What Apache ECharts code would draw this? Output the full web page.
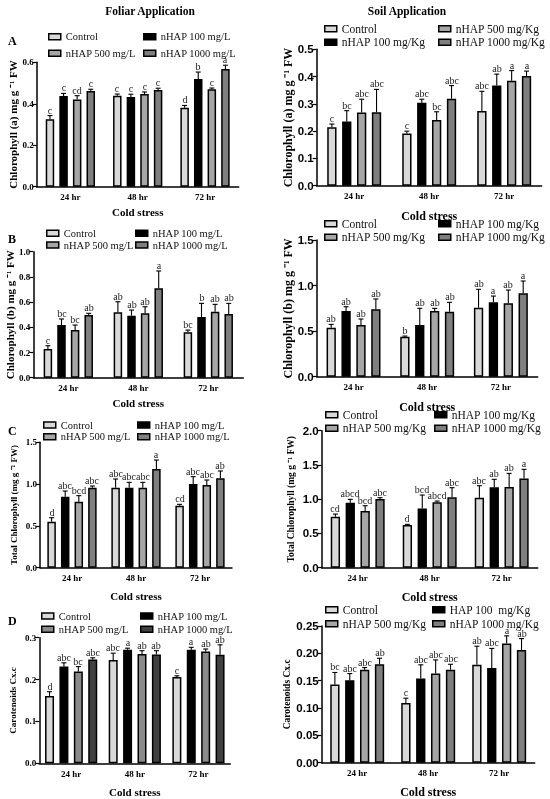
<!DOCTYPE html>
<html>
<head>
<meta charset="utf-8">
<script src="https://cdn.jsdelivr.net/npm/echarts@6/dist/echarts.min.js"></script>
<style>
  html, body { margin: 0; padding: 0; background: #fff; }
  #chart { width: 550px; height: 799px; }
  #chart svg { will-change: transform; }
</style>
</head>
<body>
<div id="chart"></div>
<script>
// categories and legend names
const groups = ['24 hr', '48 hr', '72 hr']
const foliarNames = ['Control', 'nHAP 100 mg/L', 'nHAP 500 mg/L', 'nHAP 1000 mg/L']
const soilNames = ['Control', 'nHAP 100 mg/Kg', 'nHAP 500 mg/Kg', 'nHAP 1000 mg/Kg']
const soilNamesD = ['Control', 'HAP 100  mg/Kg', 'nHAP 500 mg/Kg', 'nHAP 1000 mg/Kg']

// rows = Control, 100, 500, 1000 ; columns = 24 hr, 48 hr, 72 hr
// A - chlorophyll a
const chlAFoliar = [[0.325, 0.439, 0.381], [0.437, 0.433, 0.520], [0.421, 0.447, 0.470], [0.462, 0.466, 0.568]]
const chlAFoliarErr = [[0.018, 0.008, 0.011], [0.013, 0.013, 0.033], [0.018, 0.010, 0.006], [0.008, 0.009, 0.018]]
const chlAFoliarSig = [['c', 'c', 'd'], ['c', 'c', 'b'], ['cd', 'c', 'c'], ['c', 'c', 'a']]
const chlASoil = [[0.214, 0.191, 0.274], [0.235, 0.304, 0.367], [0.268, 0.241, 0.385], [0.269, 0.319, 0.402]]
const chlASoilErr = [[0.012, 0.009, 0.072], [0.040, 0.013, 0.042], [0.049, 0.030, 0.037], [0.084, 0.048, 0.018]]
const chlASoilSig = [['c', 'c', 'abc'], ['bc', 'abc', 'ab'], ['abc', 'bc', 'a'], ['abc', 'abc', 'a']]

// B - chlorophyll b
const chlBFoliar = [[0.228, 0.519, 0.360], [0.418, 0.492, 0.481], [0.378, 0.511, 0.524], [0.497, 0.709, 0.505]]
const chlBFoliarErr = [[0.026, 0.084, 0.018], [0.048, 0.045, 0.109], [0.040, 0.052, 0.058], [0.014, 0.138, 0.085]]
const chlBFoliarSig = [['c', 'ab', 'bc'], ['bc', 'ab', 'b'], ['bc', 'ab', 'ab'], ['ab', 'a', 'ab']]
const chlBSoil = [[0.538, 0.439, 0.757], [0.721, 0.567, 0.816], [0.567, 0.721, 0.805], [0.739, 0.713, 0.915]]
const chlBSoilErr = [[0.036, 0.007, 0.202], [0.047, 0.183, 0.069], [0.066, 0.029, 0.146], [0.114, 0.103, 0.135]]
const chlBSoilSig = [['ab', 'b', 'ab'], ['ab', 'ab', 'a'], ['ab', 'ab', 'ab'], ['ab', 'ab', 'a']]

// C - total chlorophyll
const totFoliar = [[0.550, 0.957, 0.742], [0.850, 0.957, 1.001], [0.790, 0.957, 0.989], [0.957, 1.181, 1.069]]
const totFoliarErr = [[0.048, 0.104, 0.016], [0.067, 0.064, 0.088], [0.072, 0.064, 0.060], [0.020, 0.107, 0.088]]
const totFoliarSig = [['d', 'abc', 'cd'], ['abc', 'abc', 'abc'], ['bcd', 'abc', 'abc'], ['abc', 'a', 'ab']]
const totSoil = [[0.745, 0.623, 1.022], [0.949, 0.866, 1.173], [0.827, 0.954, 1.178], [1.002, 1.027, 1.304]]
const totSoilErr = [[0.038, 0.010, 0.175], [0.049, 0.195, 0.117], [0.078, 0.019, 0.199], [0.020, 0.141, 0.132]]
const totSoilSig = [['cd', 'd', 'abc'], ['abcd', 'bcd', 'ab'], ['bcd', 'abcd', 'ab'], ['abc', 'abc', 'a']]

// D - carotenoids
const carFoliar = [[0.161, 0.247, 0.206], [0.231, 0.271, 0.271], [0.219, 0.261, 0.267], [0.248, 0.260, 0.259]]
const carFoliarErr = [[0.010, 0.016, 0.003], [0.009, 0.004, 0.006], [0.012, 0.008, 0.006], [0.004, 0.009, 0.024]]
const carFoliarSig = [['d', 'abc', 'c'], ['abc', 'a', 'a'], ['bc', 'ab', 'ab'], ['abc', 'ab', 'ab']]
const carSoil = [[0.143, 0.109, 0.179], [0.151, 0.154, 0.173], [0.170, 0.163, 0.218], [0.180, 0.170, 0.206]]
const carSoilErr = [[0.022, 0.009, 0.034], [0.012, 0.025, 0.036], [0.004, 0.025, 0.014], [0.011, 0.010, 0.021]]
const carSoilSig = [['bc', 'c', 'ab'], ['abc', 'abc', 'abc'], ['abc', 'abc', 'a'], ['ab', 'abc', 'ab']]

const serif = '"Liberation Serif", "Times New Roman", serif'
const sans = '"Liberation Sans", Arial, sans-serif'
const greys = ['#d9d9d9', '#000000', '#a6a6a6', '#7f7f7f']
const greysD = ['#d9d9d9', '#000000', '#8a8a8a', '#414141']

// one entry per panel: layout and styling
const panels = [
  { mean: chlAFoliar, err: chlAFoliarErr, sig: chlAFoliarSig, names: foliarNames, colors: greys,
    grid: [36.7, 62.3, 202, 124.4], max: 0.6, interval: 0.2, dec: 1, yName: 'Chlorophyll (a) mg g ⁻¹ FW',
    yNameSize: 11, yNameGap: 14, soil: false, xNameGap: 20, bw: 8.5,
    legend: { xs: [48, 143], ys: [36.7, 53.3], cols: [[0, 2], [1, 3]] } },
  { mean: chlASoil, err: chlASoilErr, sig: chlASoilSig, names: soilNames, colors: greys,
    grid: [316.7, 49.3, 225, 136.4], max: 0.5, interval: 0.1, dec: 1, yName: 'Chlorophyll (a) mg g ⁻¹ FW',
    yNameSize: 12, yNameGap: 18, soil: true, xNameGap: 24, bw: 9.3,
    legend: { xs: [324, 438], ys: [28.3, 40.7], cols: [[0, 1], [2, 3]] } },
  { mean: chlBFoliar, err: chlBFoliarErr, sig: chlBFoliarSig, names: foliarNames, colors: greys,
    grid: [33.3, 251.7, 210, 126], max: 1.0, interval: 0.2, dec: 1, yName: 'Chlorophyll (b) mg g ⁻¹ FW',
    yNameSize: 11, yNameGap: 11, soil: false, xNameGap: 20, bw: 8.5,
    legend: { xs: [46, 135], ys: [233.3, 245], cols: [[0, 2], [1, 3]] } },
  { mean: chlBSoil, err: chlBSoilErr, sig: chlBSoilSig, names: soilNames, colors: greys,
    grid: [316.7, 240, 221, 136.7], max: 1.5, interval: 0.5, dec: 1, yName: 'Chlorophyll (b) mg g ⁻¹ FW',
    yNameSize: 12, yNameGap: 18, soil: true, xNameGap: 24, bw: 9.3,
    legend: { xs: [324, 438], ys: [223.3, 235.7], cols: [[0, 2], [1, 3]] } },
  { mean: totFoliar, err: totFoliarErr, sig: totFoliarSig, names: foliarNames, colors: greys,
    grid: [40, 442.3, 192, 125.4], max: 1.5, interval: 0.5, dec: 1, yName: 'Total Chlorophyll (mg g ⁻¹ FW)',
    yNameSize: 9, yNameGap: 22, soil: false, xNameGap: 23, bw: 8.5,
    legend: { xs: [43, 137], ys: [425, 436.7], cols: [[0, 2], [1, 3]] } },
  { mean: totSoil, err: totSoilErr, sig: totSoilSig, names: soilNames, colors: greys,
    grid: [321.7, 430.7, 216, 137], max: 2.0, interval: 0.5, dec: 1, yName: 'Total Chlorophyll (mg g ⁻¹ FW)',
    yNameSize: 9.5, yNameGap: 26, soil: true, xNameGap: 23, bw: 9.3,
    legend: { xs: [325, 434], ys: [414.3, 426.7], cols: [[0, 2], [1, 3]] } },
  { mean: carFoliar, err: carFoliarErr, sig: carFoliarSig, names: foliarNames, colors: greysD,
    grid: [39.3, 637.7, 191, 125.6], max: 0.3, interval: 0.1, dec: 1, yName: 'Carotenoids Cx.c',
    yNameSize: 9, yNameGap: 22, soil: false, xNameGap: 23, bw: 9,
    legend: { xs: [41, 140], ys: [616, 629.3], cols: [[0, 2], [1, 3]] } },
  { mean: carSoil, err: carSoilErr, sig: carSoilSig, names: soilNamesD, colors: greys,
    grid: [321.7, 626, 213, 136.7], max: 0.25, interval: 0.05, dec: 2, yName: 'Carotenoids Cx.c',
    yNameSize: 9.5, yNameGap: 29, soil: true, xNameGap: 23, bw: 9.3,
    legend: { xs: [325, 432], ys: [609.3, 622.3], cols: [[0, 2], [1, 3]] } }
]

const gapFrac = 0.6
const option = {
  animation: false,
  title: [
    { text: 'Foliar Application', left: 145, top: 0, textAlign: 'center', textStyle: { fontFamily: serif, fontSize: 11.5, fontWeight: 'bold', color: '#000' } },
    { text: 'Soil Application', left: 402, top: 0, textAlign: 'center', textStyle: { fontFamily: serif, fontSize: 11.5, fontWeight: 'bold', color: '#000' } },
    { text: 'A', left: 3, top: 30, textStyle: { fontFamily: serif, fontSize: 12, fontWeight: 'bold', color: '#000' } },
    { text: 'B', left: 3, top: 228, textStyle: { fontFamily: serif, fontSize: 12, fontWeight: 'bold', color: '#000' } },
    { text: 'C', left: 3, top: 420, textStyle: { fontFamily: serif, fontSize: 12, fontWeight: 'bold', color: '#000' } },
    { text: 'D', left: 3, top: 610, textStyle: { fontFamily: serif, fontSize: 12, fontWeight: 'bold', color: '#000' } }
  ],
  grid: [], xAxis: [], yAxis: [], legend: [], series: []
}

panels.forEach((p, i) => {
  const [gl, gt, gw, gh] = p.grid
  option.grid.push({ left: gl, top: gt, width: gw, height: gh })
  option.xAxis.push({
    type: 'category', gridIndex: i, data: groups,
    name: 'Cold stress', nameLocation: 'middle', nameGap: p.xNameGap,
    nameTextStyle: { fontFamily: serif, fontWeight: 'bold', fontSize: p.soil ? 12 : 11, color: '#000' },
    axisLine: { lineStyle: { color: '#000', width: 1.5 } },
    axisTick: { alignWithLabel: true, length: 4, lineStyle: { color: '#000', width: 1.2 } },
    axisLabel: { fontFamily: serif, fontWeight: 'bold', fontSize: 9, color: '#000', margin: 6 }
  })
  option.yAxis.push({
    type: 'value', gridIndex: i, min: 0, max: p.max, interval: p.interval,
    name: p.yName, nameLocation: 'middle', nameRotate: 90, nameGap: p.yNameGap,
    nameTextStyle: { fontFamily: serif, fontWeight: 'bold', fontSize: p.yNameSize, color: '#000' },
    axisLine: { show: true, lineStyle: { color: '#000', width: 1.5 } },
    axisTick: { show: true, length: 4, lineStyle: { color: '#000', width: 1.2 } },
    splitLine: { show: false },
    axisLabel: {
      fontFamily: p.soil ? sans : serif, fontWeight: 'bold', fontSize: p.soil ? 11.5 : 9,
      color: '#000', margin: 3, formatter: v => v.toFixed(p.dec)
    }
  })

  // legend: one vertical block per column so the columns line up
  const lh = 11
  p.legend.cols.forEach((col, ci) => {
    option.legend.push({
      orient: 'vertical', left: p.legend.xs[ci], top: p.legend.ys[0] - lh / 2,
      itemWidth: 12, itemHeight: 6, itemGap: (p.legend.ys[1] - p.legend.ys[0]) - lh,
      padding: 0, selectedMode: false,
      textStyle: { fontFamily: serif, fontSize: p.soil ? 11.5 : 10.5, lineHeight: lh, color: '#111' },
      data: col.map(s => ({
        name: p.names[s], icon: 'rect',
        itemStyle: { color: p.colors[s], borderColor: '#000', borderWidth: 1.5 }
      }))
    })
  })

  // bars
  p.names.forEach((name, s) => {
    option.series.push({
      type: 'bar', name: name, xAxisIndex: i, yAxisIndex: i,
      data: p.mean[s], barWidth: p.bw, barGap: (gapFrac * 100) + '%',
      itemStyle: { color: p.colors[s], borderColor: '#000', borderWidth: 1.5 }
    })
  })

  // error bars + letters
  const errData = []
  const letters = []
  for (let s = 0; s < 4; s++) {
    for (let c = 0; c < 3; c++) {
      errData.push([c, s, p.mean[s][c], p.err[s][c]])
      letters.push(p.sig[s][c])
    }
  }
  const bw = p.bw
  option.series.push({
    type: 'custom', xAxisIndex: i, yAxisIndex: i, data: errData, z: 5, clip: false,
    color: '#222', itemStyle: { color: '#222' },
    renderItem: (params, api) => {
      const c = api.value(0), s = api.value(1), v = api.value(2), e = api.value(3)
      const base = api.coord([c, v])
      const top = api.coord([c, v + e])
      const x = base[0] + (s - 1.5) * bw * (1 + gapFrac)
      const ls = { stroke: '#000', lineWidth: 1.1 }
      return {
        type: 'group',
        children: [
          { type: 'line', shape: { x1: x, y1: base[1], x2: x, y2: top[1] }, style: ls },
          { type: 'line', shape: { x1: x - 2.5, y1: top[1], x2: x + 2.5, y2: top[1] }, style: ls },
          { type: 'text', x: Math.round(x), y: Math.round(top[1] - 1),
            style: { text: letters[params.dataIndex], fill: '#222', fontFamily: serif, fontSize: 10, align: 'center', verticalAlign: 'bottom' } }
        ]
      }
    }
  })
})

const myChart = echarts.init(document.getElementById('chart'), null, { renderer: 'svg' })
myChart.setOption(option)
</script>
</body>
</html>
